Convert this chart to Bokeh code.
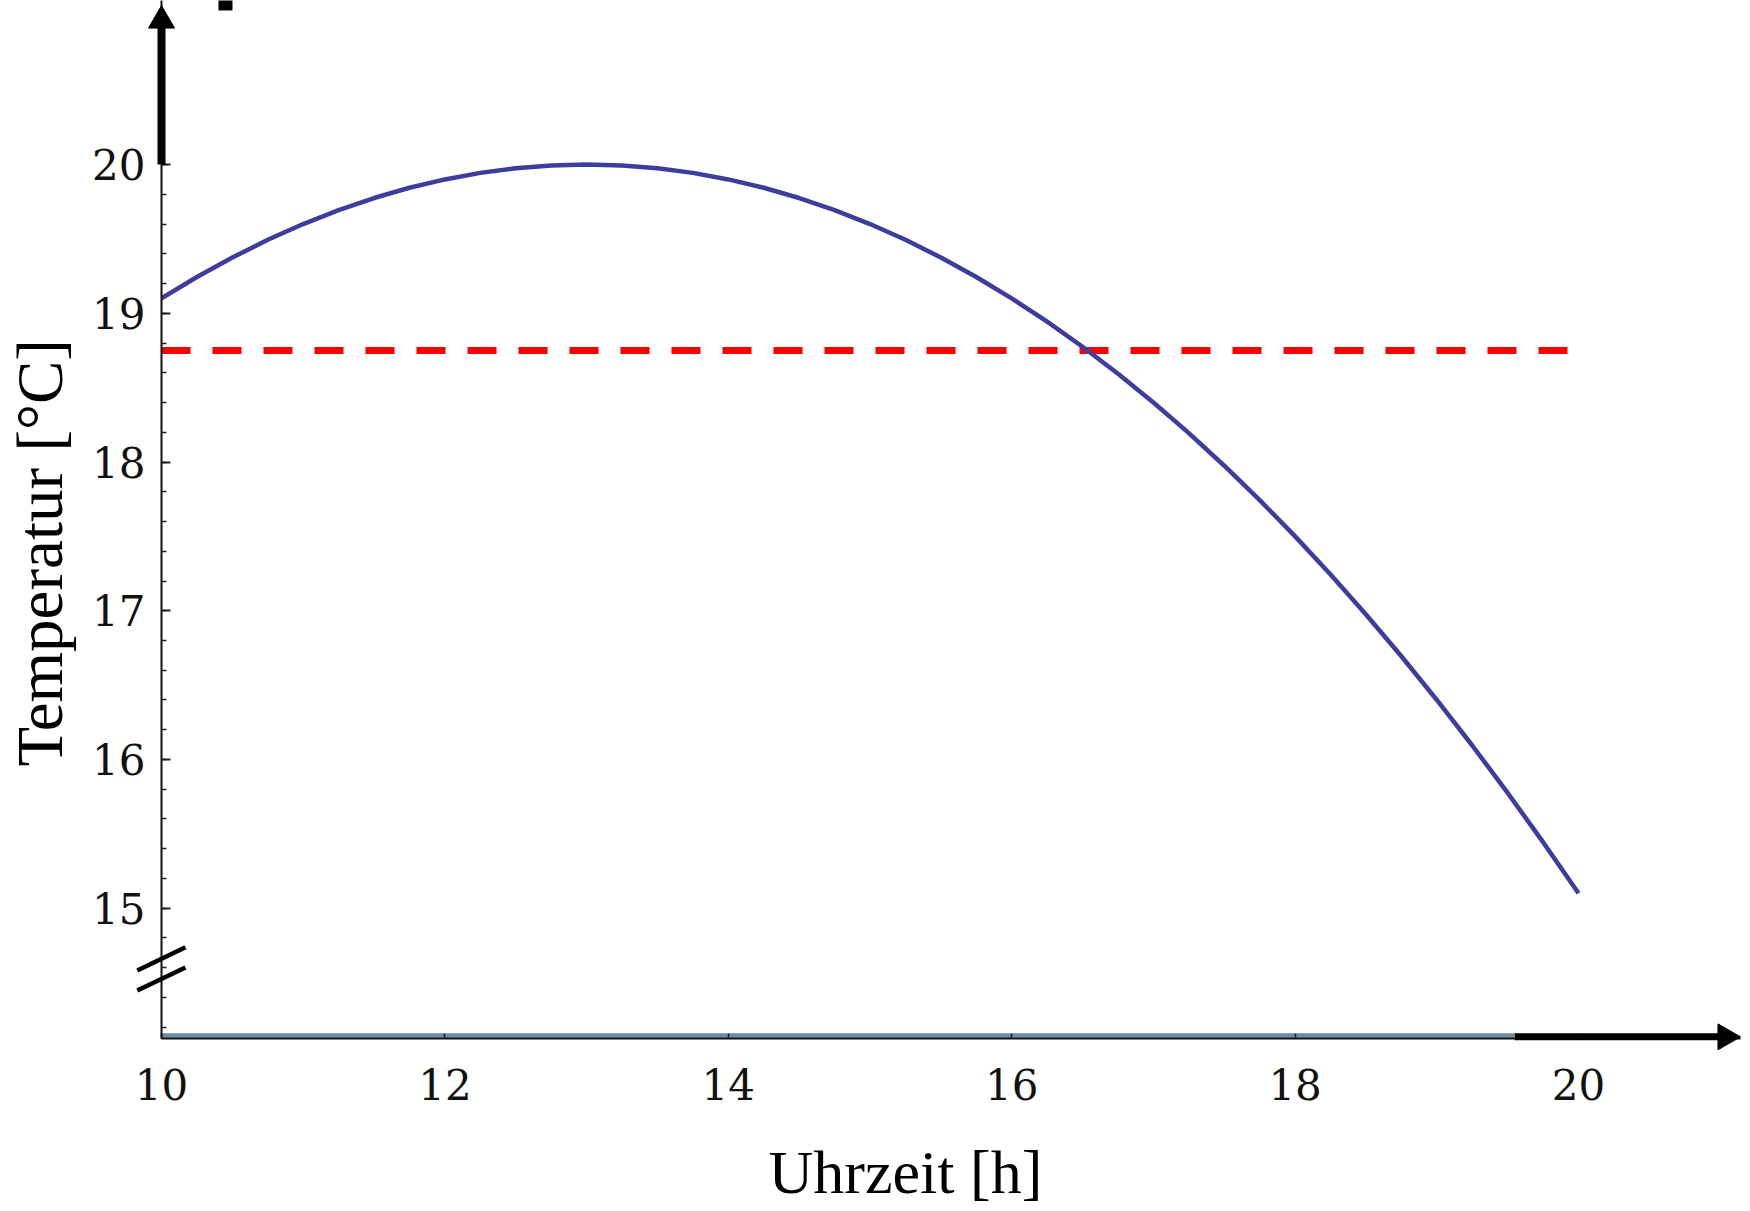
import numpy as np
from bokeh.plotting import figure
from bokeh.models import FixedTicker, Range1d
from bokeh.core.properties import value
from bokeh.embed import file_html
from bokeh.resources import INLINE

# ---- data ----
hours = [10.00, 10.25, 10.50, 10.75, 11.00, 11.25, 11.50, 11.75, 12.00, 12.25,
         12.50, 12.75, 13.00, 13.25, 13.50, 13.75, 14.00, 14.25, 14.50, 14.75,
         15.00, 15.25, 15.50, 15.75, 16.00, 16.25, 16.50, 16.75, 17.00, 17.25,
         17.50, 17.75, 18.00, 18.25, 18.50, 18.75, 19.00, 19.25, 19.50, 19.75,
         20.00]
temperature = [19.100, 19.244, 19.375, 19.494, 19.600, 19.694, 19.775, 19.844,
               19.900, 19.944, 19.975, 19.994, 20.000, 19.994, 19.975, 19.944,
               19.900, 19.844, 19.775, 19.694, 19.600, 19.494, 19.375, 19.244,
               19.100, 18.944, 18.775, 18.594, 18.400, 18.194, 17.975, 17.744,
               17.500, 17.244, 16.975, 16.694, 16.400, 16.094, 15.775, 15.444,
               15.100]
threshold_hours = [10, 20]
threshold_temp = [18.75, 18.75]
baseline_hours = [10, 19.55]
baseline_temp = [14.144, 14.144]
x_ticks = [10, 12, 14, 16, 18, 20]
y_ticks = [15, 16, 17, 18, 19, 20]
x_label = "Uhrzeit [h]"
y_label = "Temperatur [°C]"

X_MIN, X_MAX = 10.0, 21.143
Y_MIN, Y_MAX = 14.124, 21.103
AXIS_Y = 14.135

p = figure(width=1750, height=1211, output_backend="svg", toolbar_location=None,
           x_range=Range1d(X_MIN, X_MAX), y_range=Range1d(Y_MIN, Y_MAX),
           min_border_left=161, min_border_right=10, min_border_top=0,
           min_border_bottom=173)
p.outline_line_color = None
p.grid.visible = False
p.background_fill_color = "white"
p.border_fill_color = "white"

# axes
p.xaxis.ticker = FixedTicker(ticks=x_ticks)
p.yaxis.ticker = FixedTicker(ticks=y_ticks,
                             minor_ticks=[round(v, 1) for v in np.arange(14.2, 20.01, 0.2)])
for ax in (p.xaxis, p.yaxis):
    ax.axis_line_color = "#111111"
    ax.axis_line_width = 2
    ax.major_tick_line_color = "#222222"
    ax.major_tick_out = 0
    ax.minor_tick_out = 0
    ax.major_label_text_font = "DejaVu Serif"
    ax.major_label_text_font_size = "42px"
    ax.major_label_text_color = "#111111"

p.yaxis.major_tick_in = 9
p.yaxis.major_tick_line_width = 2
p.yaxis.minor_tick_in = 5
p.yaxis.minor_tick_line_width = 1.5
p.yaxis.minor_tick_line_color = "#222222"
p.yaxis.major_label_standoff = 16

p.xaxis.major_tick_in = 5
p.xaxis.major_tick_line_width = 1.5
p.xaxis.minor_tick_line_color = None
p.xaxis.major_label_standoff = 30

# baseline band above x axis
p.line(baseline_hours, baseline_temp, line_color="#6a8ca5", line_width=4.5)

# threshold dashed line
p.line(threshold_hours, threshold_temp, line_color="#ff0000", line_width=7,
       line_dash="29 22")

# temperature curve
p.line(hours, temperature, line_color="#3d3d9e", line_width=4.5)

# axis break marks
brk_x0 = [9.829, 9.829]
brk_x1 = [10.169, 10.169]
brk_y0 = [14.581, 14.447]
brk_y1 = [14.738, 14.601]
p.segment(brk_x0, brk_y0, brk_x1, brk_y1, line_color="black", line_width=4.5,
          level="overlay")

# arrows (shafts + heads)
p.segment(x0=[10, 19.55], y0=[20, AXIS_Y], x1=[10, 21.0], y1=[20.93, AXIS_Y],
          line_color="black", line_width=[8, 7], line_cap="butt", level="overlay")
p.scatter(x=[10, 21.037], y=[20.968, AXIS_Y], marker="triangle", size=26,
          angle=[0, -np.pi / 2], fill_color="black", line_color="black",
          level="overlay")

# small black mark at the top edge (as in the source image)
p.quad(left=[10.402], right=[10.501], top=[21.103], bottom=[21.036],
       fill_color="black", line_color=None, level="overlay")

# axis titles
p.text(x=[15.25], y=[13.225], text=[x_label], text_align="center",
       text_baseline="middle", text_font=value("Liberation Serif"),
       text_font_size="62px", text_color="black", level="overlay")
p.text(x=[9.146], y=[17.39], text=[y_label], text_align="center",
       text_baseline="middle", angle=np.pi / 2,
       text_font=value("Liberation Serif"),
       text_font_size="65px", text_color="black", level="overlay")

open("out.html", "w").write(file_html(p, INLINE))
